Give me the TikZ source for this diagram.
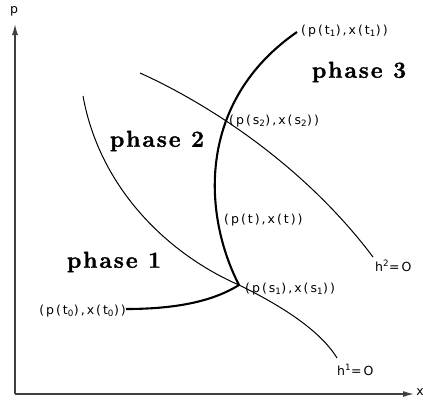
\documentclass[tikz,border=0pt]{standalone}
\usepackage{fontspec}
\setmainfont{Latin Modern Roman}
\newfontfamily\lblfont[LetterSpace=16]{DejaVu Sans}
\newfontfamily\phasefont[LetterSpace=8,BoldFeatures={FakeBold=1.5}]{Latin Modern Roman}
\usetikzlibrary{arrows.meta}
\tikzset{
  axisline/.style={line width=1.3pt, black!75, -{Latex[length=11pt,width=6pt]}},
  thin curve/.style={line width=1pt},
  traj/.style={line width=2.1pt, line join=round},
  lbl/.style={font=\lblfont\fontsize{12.5}{13}\selectfont, inner sep=1pt},
  phase/.style={font=\phasefont\bfseries\fontsize{23}{24}\selectfont, inner sep=0pt}
}
\begin{document}
\begin{tikzpicture}[x=1pt,y=-1pt]
\useasboundingbox (0,0) rectangle (423,402);
% axes
\coordinate (O) at (15,394);
\coordinate (ytip) at (15,24);
\coordinate (xtip) at (414,394);
\draw[axisline] (O) -- (ytip);
\draw[axisline] (O) -- (xtip);
\node[lbl] (plab) at (14,11) {p};
\node[lbl] (xlab) at (420,392) {x};
% key points
\coordinate (s1) at (239,285);
\coordinate (s2) at (226,118);
\coordinate (t0) at (126,309);
\coordinate (t1) at (297,32);
% h^1 = 0 curve
\draw[thin curve] (83,96) .. controls (100,190) and (170,255) .. (s1) .. controls (280,305) and (320,330) .. (337,358);
% h^2 = 0 curve
\draw[thin curve] (140,73) .. controls (200,100) and (300,160) .. (373,257);
% trajectory
\draw[traj] (t0) .. controls (180,309) and (215,300) .. (s1);
\draw[traj] (s1) .. controls (203,215) and (196,102) .. (t1);
% labels
\node[lbl, anchor=west] (lt1) at (300,31) {(p(t\textsubscript{1}),x(t\textsubscript{1}))};
\node[lbl, anchor=west] (ls2) at (228,121) {(p(s\textsubscript{2}),x(s\textsubscript{2}))};
\node[lbl, anchor=west] (lt) at (223,220) {(p(t),x(t))};
\node[lbl, anchor=west] (ls1) at (244,289) {(p(s\textsubscript{1}),x(s\textsubscript{1}))};
\node[lbl, anchor=east] (lt0) at (127,311) {(p(t\textsubscript{0}),x(t\textsubscript{0}))};
\node[lbl, anchor=west] (lh2) at (374,266) {h\textsuperscript{2}=O};
\node[lbl, anchor=west] (lh1) at (336,370) {h\textsuperscript{1}=O};
\node[phase] (ph3) at (359,72) {phase 3};
\node[phase] (ph2) at (157,141) {phase 2};
\node[phase] (ph1) at (114,262) {phase 1};
\end{tikzpicture}
\end{document}
